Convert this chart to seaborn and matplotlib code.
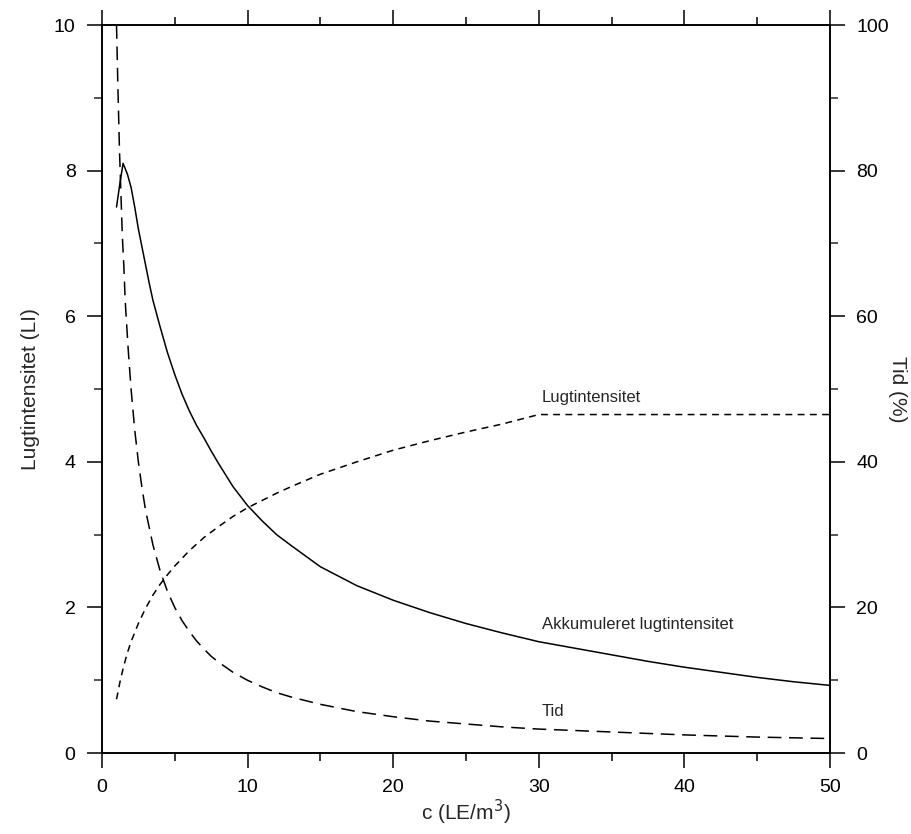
import numpy as np
import pandas as pd
import matplotlib
matplotlib.use("Agg")
import matplotlib.pyplot as plt
from matplotlib.ticker import MultipleLocator
import seaborn as sns

# Data
c_li = [1, 1.25, 1.5, 1.75, 2, 2.5, 3, 3.5, 4, 4.5, 5, 6, 7, 8, 9, 10, 11, 12, 13,
        15, 17.5, 20, 22.5, 25, 27.5, 30, 35, 40, 45, 50]
lugtintensitet = [0.74, 0.99, 1.20, 1.38, 1.53, 1.78, 1.99, 2.17, 2.32, 2.45, 2.57,
                  2.78, 2.96, 3.11, 3.25, 3.37, 3.47, 3.57, 3.66, 3.83, 4.0, 4.16,
                  4.29, 4.41, 4.52, 4.65, 4.65, 4.65, 4.65, 4.65]

c_acc = [1, 1.25, 1.45, 1.75, 2, 2.25, 2.5, 2.75, 3, 3.25, 3.5, 4, 4.5, 5, 5.5, 6,
         6.5, 7, 7.5, 8, 9, 10, 11, 12, 13, 15, 17.5, 20, 22.5, 25, 27.5, 30,
         32.5, 35, 37.5, 40, 42.5, 45, 47.5, 50]
akkumuleret = [7.5, 7.85, 8.1, 7.95, 7.77, 7.5, 7.2, 6.95, 6.7, 6.45, 6.22, 5.85,
               5.5, 5.2, 4.93, 4.7, 4.5, 4.33, 4.15, 3.98, 3.66, 3.40, 3.19, 3.0,
               2.85, 2.56, 2.3, 2.10, 1.93, 1.78, 1.65, 1.53, 1.44, 1.35, 1.26,
               1.18, 1.11, 1.04, 0.98, 0.93]

c_tid = [1, 1.1, 1.2, 1.3, 1.4, 1.5, 1.6, 1.8, 2, 2.25, 2.5, 2.75, 3, 3.5, 4, 4.5,
         5, 5.5, 6, 6.5, 7, 7.5, 8, 9, 10, 11, 12, 13, 15, 17.5, 20, 22.5, 25,
         27.5, 30, 35, 40, 45, 50]
tid_pct = [100, 91, 83, 77, 71, 67, 62, 55.5, 50, 44.4, 40, 36.4, 33.3, 28.6, 25,
           22.2, 20, 18.2, 16.7, 15.4, 14.3, 13.3, 12.5, 11.1, 10, 9.1, 8.3, 7.7,
           6.7, 5.7, 5.0, 4.4, 4.0, 3.6, 3.3, 2.9, 2.5, 2.2, 2.0]

x_ticks = [0, 10, 20, 30, 40, 50]
y_ticks = [0, 2, 4, 6, 8, 10]
y2_ticks = [0, 20, 40, 60, 80, 100]

sns.set_style("ticks")
plt.rcParams['font.family'] = ['Liberation Sans', 'DejaVu Sans']

fig = plt.figure(figsize=(9.12, 8.34), dpi=100)
ax = fig.add_axes([0.1118, 0.097, 0.7982, 0.873])
ax2 = ax.twinx()

df_li = pd.DataFrame({"c": c_li, "v": lugtintensitet})
df_acc = pd.DataFrame({"c": c_acc, "v": akkumuleret})
df_tid = pd.DataFrame({"c": c_tid, "v": tid_pct})

sns.lineplot(data=df_acc, x="c", y="v", ax=ax, color="black", lw=1.1, sort=False)
sns.lineplot(data=df_li, x="c", y="v", ax=ax, color="black", lw=1.1, sort=False)
ax.lines[-1].set_dashes([4.5, 3.5])
sns.lineplot(data=df_tid, x="c", y="v", ax=ax2, color="black", lw=1.1, sort=False)
ax2.lines[-1].set_dashes([9, 5])

ax.set_xlim(0, 50)
ax.set_ylim(0, 10)
ax2.set_ylim(0, 100)
ax.set_xticks(x_ticks)
ax.set_yticks(y_ticks)
ax2.set_yticks(y2_ticks)
ax.xaxis.set_minor_locator(MultipleLocator(5))
ax.yaxis.set_minor_locator(MultipleLocator(1))
ax2.yaxis.set_minor_locator(MultipleLocator(10))

for a in (ax, ax2):
    for s in a.spines.values():
        s.set_visible(True)
        s.set_linewidth(1.2)
        s.set_color("black")

ax.tick_params(axis="x", which="both", direction="out", top=True, bottom=True,
               labelsize=14, pad=8, colors="black")
ax.tick_params(axis="x", which="major", length=11, width=1.1)
ax.tick_params(axis="x", which="minor", length=6, width=1.1)
ax.tick_params(axis="y", which="major", length=11, width=1.1, labelsize=14, pad=8,
               colors="black")
ax.tick_params(axis="y", which="minor", length=6, width=1.1)
ax2.tick_params(axis="y", which="major", length=11, width=1.1, labelsize=14, pad=8,
                colors="black")
ax2.tick_params(axis="y", which="minor", length=6, width=1.1)

ax.set_xlabel("c (LE/m$^{3}$)", fontsize=15, labelpad=1)
ax.set_ylabel("Lugtintensitet (LI)", fontsize=15, labelpad=10)
ax2.set_ylabel("Tid (%)", fontsize=15, rotation=270, labelpad=6, va="center")
ax2.yaxis.set_label_coords(1.093, 0.5)

ax.text(30.2, 4.78, "Lugtintensitet", fontsize=12, ha="left", va="bottom")
ax.text(30.2, 1.77, "Akkumuleret lugtintensitet", fontsize=12, ha="left", va="center")
ax.text(30.2, 0.57, "Tid", fontsize=12, ha="left", va="center")

fig.savefig("out.png", dpi=100)
